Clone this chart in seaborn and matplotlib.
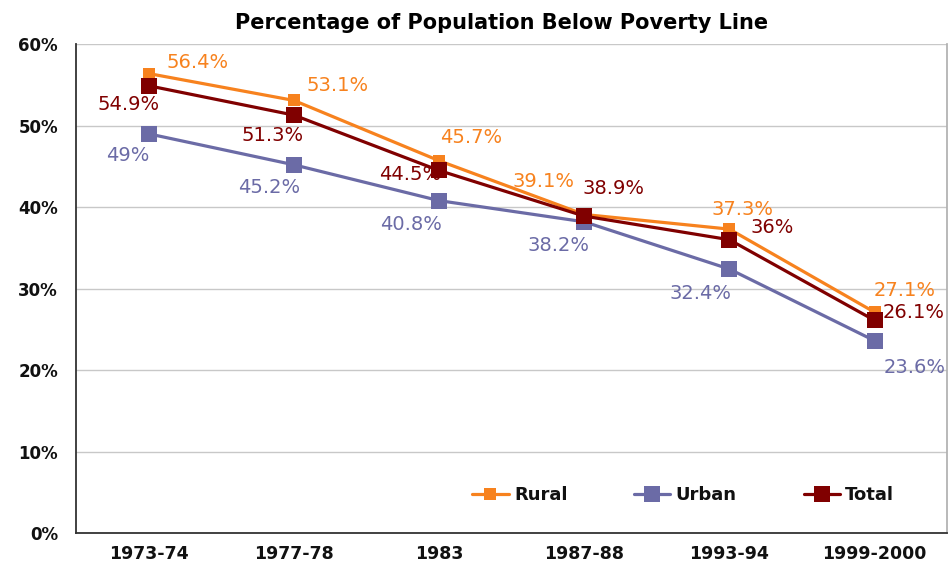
import matplotlib
matplotlib.use("Agg")
import matplotlib.pyplot as plt
import seaborn as sns
import pandas as pd
from matplotlib.ticker import FuncFormatter

years = ["1973-74", "1977-78", "1983", "1987-88", "1993-94", "1999-2000"]
rural = [56.4, 53.1, 45.7, 39.1, 37.3, 27.1]
urban = [49.0, 45.2, 40.8, 38.2, 32.4, 23.6]
total = [54.9, 51.3, 44.5, 38.9, 36.0, 26.1]
rural_labels = ["56.4%", "53.1%", "45.7%", "39.1%", "37.3%", "27.1%"]
urban_labels = ["49%", "45.2%", "40.8%", "38.2%", "32.4%", "23.6%"]
total_labels = ["54.9%", "51.3%", "44.5%", "38.9%", "36%", "26.1%"]

sns.set_theme(style="white")
plt.rcParams['font.family'] = ['DejaVu Sans']

fig = plt.figure(figsize=(9.51, 5.67), dpi=100)
ax = fig.add_axes([0.080, 0.060, 0.916, 0.862])

c_rural = "#F7821E"
c_urban = "#6B6BA6"
c_total = "#800000"

series = [
    ("Rural", rural, c_rural, 9),
    ("Urban", urban, c_urban, 11),
    ("Total", total, c_total, 11.5),
]
for name, vals, col, ms in series:
    df = pd.DataFrame({"year": years, "value": vals})
    sns.lineplot(data=df, x="year", y="value", ax=ax, color=col, linewidth=2.3,
                 marker="s", markersize=ms, markeredgewidth=0, label=name,
                 sort=False)

# label offsets in pixels (dx, dy upward positive)
rural_off = [(49, 11), (44, 15), (32, 23), (-41, 33), (13, 20), (30, 22)]
total_off = [(-20, -19), (-21, -20), (-29, -4), (29, 28), (43, 12), (39, 8)]
urban_off = [(-21, -22), (-25, -23), (-28, -24), (-26, -24), (-29, -24), (40, -27)]

for vals, labs, offs, col in [(rural, rural_labels, rural_off, c_rural),
                              (total, total_labels, total_off, c_total),
                              (urban, urban_labels, urban_off, c_urban)]:
    for i, (v, lab, off) in enumerate(zip(vals, labs, offs)):
        ax.annotate(lab, (i, v), xytext=off, textcoords="offset pixels",
                    ha="center", va="center", color=col, fontsize=14)

ax.set_xlim(-0.5, 5.5)
ax.set_ylim(0, 60)
ax.set_yticks(range(0, 61, 10))
ax.yaxis.set_major_formatter(FuncFormatter(lambda v, p: f"{int(v)}%"))
ax.set_xlabel("")
ax.set_ylabel("")
ax.grid(axis="y", color="#C8C8C8", linewidth=1)
ax.set_axisbelow(True)

ax.spines["top"].set_visible(False)
ax.spines["right"].set_color("#B0B0B0")
ax.spines["left"].set_color("#333333")
ax.spines["bottom"].set_color("#333333")
ax.spines["left"].set_linewidth(1.3)
ax.spines["bottom"].set_linewidth(1.3)

ax.set_xticks(range(len(years)))
ax.set_xticklabels(years, fontsize=12.5, fontweight="bold", color="#111111")
ax.tick_params(axis="x", length=0, pad=9)
ax.set_xticks([i + 0.5 for i in range(-1, 6)], minor=True)
ax.tick_params(axis="x", which="minor", length=6, width=1.3, color="#333333", direction="out")
ax.tick_params(axis="y", length=7, width=1.3, color="#333333", direction="out",
               labelsize=12, pad=6)
for t in ax.get_yticklabels():
    t.set_fontweight("bold")
    t.set_color("#111111")

ax.set_title("Percentage of Population Below Poverty Line", fontsize=15,
             fontweight="bold", pad=11, x=0.488, color="black")

leg = ax.legend(loc="center", bbox_to_anchor=(0.697, 0.078), ncol=3, frameon=False,
                fontsize=13, handlelength=2.0, columnspacing=3.7, handletextpad=0.3)
for t in leg.get_texts():
    t.set_fontweight("bold")
    t.set_color("#111111")

fig.savefig("out.png", dpi=100)
